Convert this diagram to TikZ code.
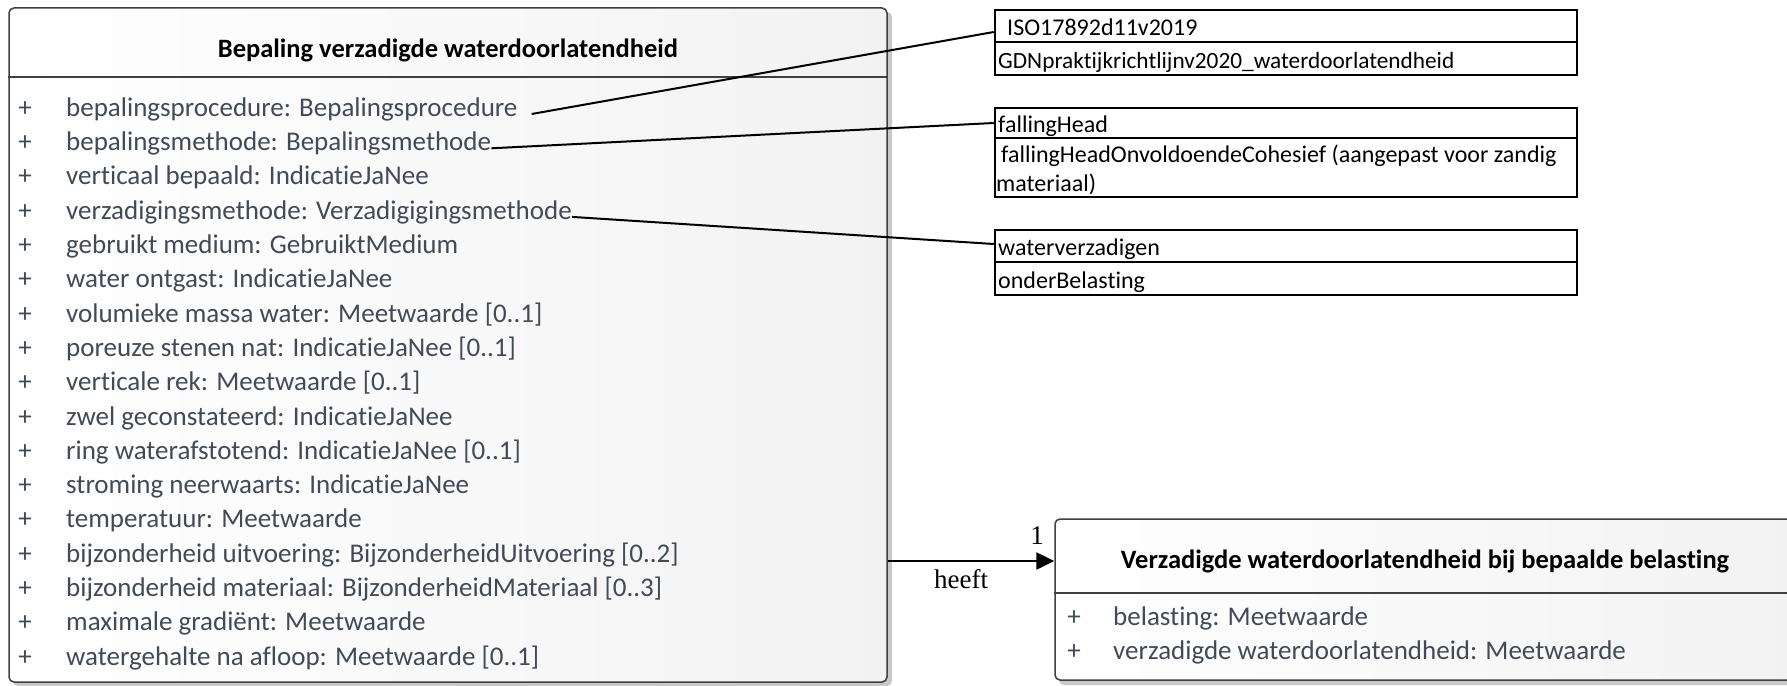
\documentclass[tikz,border=0pt]{standalone}
\usepackage{fontspec}
\setmainfont{Liberation Serif}
\newfontfamily\uifont[Ligatures=NoCommon]{Carlito}
\usetikzlibrary{arrows.meta}

\definecolor{attrcol}{HTML}{414B58}
\definecolor{edgecol}{HTML}{404040}
\definecolor{shadowcol}{HTML}{C8C8C8}

\tikzset{
  classbox/.style={draw=edgecol, line width=1.5pt, rounded corners=5pt,
    left color=white, right color=black!5, inner sep=0pt},
  classtitle/.style={font=\uifont\fontsize{26.5}{30}\selectfont\bfseries, text=black, inner sep=0pt},
  attr/.style={font=\uifont\fontsize{27}{30}\selectfont, text=attrcol, anchor=mid west, inner sep=0pt},
  plus/.style={font=\uifont\fontsize{27}{30}\selectfont, text=attrcol, anchor=mid, inner sep=0pt},
  valcell/.style={draw=black, line width=2.5pt, minimum width=582pt, inner sep=0pt},
  valtext/.style={font=\uifont\fontsize{24}{29}\selectfont, text=black, anchor=mid west, inner sep=0pt},
  valnarrow/.style={valtext, font=\uifont\fontsize{23.3}{29}\selectfont},
  link/.style={draw=black, line width=2pt},
  assoc/.style={draw=black, line width=2.5pt, -{Triangle[length=18pt,width=17pt]}},
  assoclabel/.style={font=\fontsize{27}{30}\selectfont, text=black, inner sep=0pt}
}

\begin{document}
\begin{tikzpicture}[x=1pt, y=-1pt]
\useasboundingbox (0,0) rectangle (1787,685);

% main class with its shadow
\fill[shadowcol, rounded corners=5pt] (13,12) rectangle (892,686);
\node[classbox, minimum width=878pt, minimum height=674pt] (cls) at (448,345) {};
\draw[edgecol, line width=1.5pt] (cls.west |- 0,77) -- (cls.east |- 0,77);
\node[classtitle] (clst) at (448,50) {Bepaling verzadigde waterdoorlatendheid};

% attributes
\foreach \i/\t in {
  1/{bepalingsprocedure: Bepalingsprocedure},
  2/{bepalingsmethode: Bepalingsmethode},
  3/{verticaal bepaald: IndicatieJaNee},
  4/{verzadigingsmethode: Verzadigigingsmethode},
  5/{gebruikt medium: GebruiktMedium},
  6/{water ontgast: IndicatieJaNee},
  7/{volumieke massa water: Meetwaarde [0..1]},
  8/{poreuze stenen nat: IndicatieJaNee [0..1]},
  9/{verticale rek: Meetwaarde [0..1]},
  10/{zwel geconstateerd: IndicatieJaNee},
  11/{ring waterafstotend: IndicatieJaNee [0..1]},
  12/{stroming neerwaarts: IndicatieJaNee},
  13/{temperatuur: Meetwaarde},
  14/{bijzonderheid uitvoering: BijzonderheidUitvoering [0..2]},
  15/{bijzonderheid materiaal: BijzonderheidMateriaal [0..3]},
  16/{maximale gradi\"ent: Meetwaarde},
  17/{watergehalte na afloop: Meetwaarde [0..1]}} {
  \node[plus] (p\i) at (25,{114+(\i-1)*34.3}) {+};
  \node[attr] (a\i) at (66,{114+(\i-1)*34.3}) {\t};
}

% value lists
\node[valcell, minimum height=32pt] (v1a) at (1286,26) {};
\node[valcell, minimum height=33pt] (v1b) at (1286,58.5) {};
\node[valtext] (t1a) at (1007,33) {ISO17892d11v2019};
\node[valnarrow] (t1b) at (998,66) {GDNpraktijkrichtlijnv2020\_waterdoorlatendheid};

\node[valcell, minimum height=30pt] (v2a) at (1286,123) {};
\node[valcell, minimum height=59pt] (v2b) at (1286,167.5) {};
\node[valtext] (t2a) at (998,130) {fallingHead};
\node[valtext] (t2b) at (1001,160) {fallingHeadOnvoldoendeCohesief (aangepast voor zandig};
\node[valtext] (t2c) at (996,189) {materiaal)};

\node[valcell, minimum height=32pt] (v3a) at (1286,246) {};
\node[valcell, minimum height=33pt] (v3b) at (1286,278.5) {};
\node[valtext] (t3a) at (998,253) {waterverzadigen};
\node[valtext] (t3b) at (998,286) {onderBelasting};

% links from attributes to their value lists
\draw[link] ([xshift=14pt]a1.mid east) -- ([yshift=-6pt]v1a.west);
\draw[link] (a2.mid east) -- (v2a.west);
\draw[link] (a4.mid east) -- ([yshift=2pt]v3a.west);

% second class with its shadow
\fill[shadowcol, rounded corners=5pt] (1059,523) rectangle (1800,685);
\node[classbox, minimum width=737pt, minimum height=161pt] (sub) at (1423.5,599.5) {};
\draw[edgecol, line width=1.5pt] (sub.west |- 0,593) -- (sub.east |- 0,593);
\node[classtitle] (subt) at (1425,561) {Verzadigde waterdoorlatendheid bij bepaalde belasting};
\node[plus] (q1) at (1074,623) {+};
\node[attr] (b1) at (1113,623) {belasting: Meetwaarde};
\node[plus] (q2) at (1074,657) {+};
\node[attr] (b2) at (1113,657) {verzadigde waterdoorlatendheid: Meetwaarde};

% association
\draw[assoc] (cls.east |- 0,561) -- (sub.west |- 0,561);
\node[assoclabel] (mult) at (1037,536) {1};
\node[assoclabel] (role) at (961,579) {heeft};
\end{tikzpicture}
\end{document}
